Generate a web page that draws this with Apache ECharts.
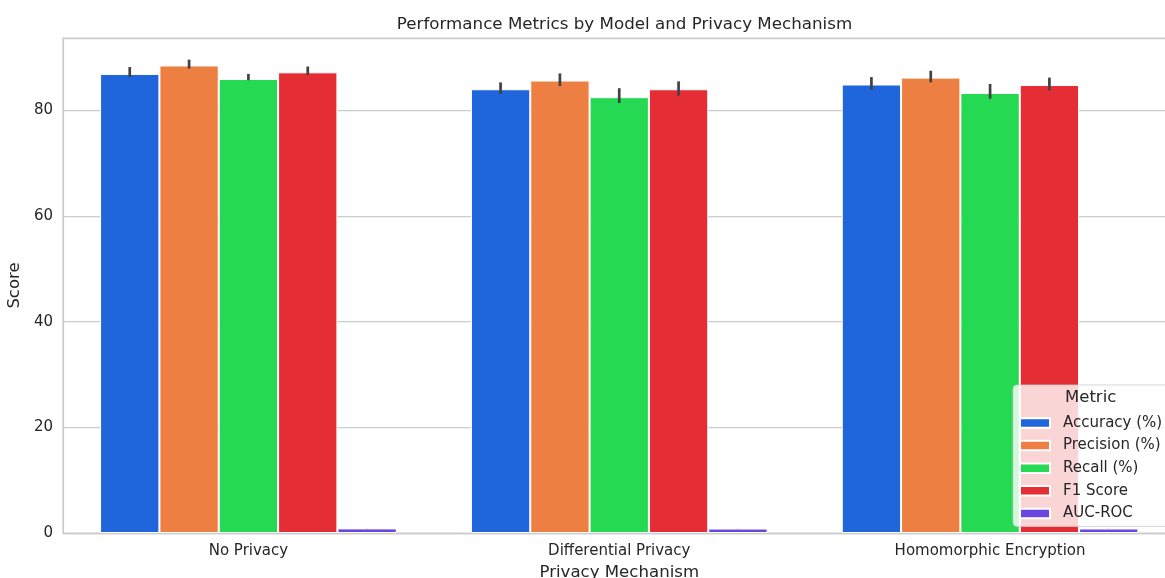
<!DOCTYPE html>
<html>
<head>
<meta charset="utf-8">
<script src="https://cdn.jsdelivr.net/npm/echarts@6/dist/echarts.min.js"></script>
<style>
  html, body { margin: 0; padding: 0; background: #ffffff; }
  #chart { width: 1165px; height: 578px; }
</style>
</head>
<body>
<div id="chart"></div>
<script>
// Privacy mechanisms on the x axis
const mechanisms = ['No Privacy', 'Differential Privacy', 'Homomorphic Encryption'];
const metricNames = ['Accuracy (%)', 'Precision (%)', 'Recall (%)', 'F1 Score', 'AUC-ROC'];

// Mean score per mechanism for each metric
const accuracy = [86.9, 84.0, 84.9];
const precision = [88.5, 85.65, 86.2];
const recall = [85.95, 82.5, 83.3];
const f1Score = [87.2, 84.0, 84.8];
const aucRoc = [0.87, 0.84, 0.85];

// Confidence interval ends (low / high) per metric
const accuracyLow = [86.3, 83.1, 83.9];
const accuracyHigh = [88.2, 85.3, 86.3];
const precisionLow = [87.9, 84.6, 85.3];
const precisionHigh = [89.6, 87.0, 87.5];
const recallLow = [85.7, 81.4, 82.2];
const recallHigh = [86.9, 84.2, 85.0];
const f1Low = [86.7, 82.8, 83.8];
const f1High = [88.3, 85.5, 86.2];
const aucLow = [0.86, 0.83, 0.84];
const aucHigh = [0.88, 0.85, 0.86];

const yTicks = [0, 20, 40, 60, 80];

const colors = ['#1f66dd', '#ee7f42', '#25d952', '#e52d35', '#6a46e0'];
const textColor = '#262626';
const font = 'DejaVu Sans';

const values = [accuracy, precision, recall, f1Score, aucRoc];
const lows = [accuracyLow, precisionLow, recallLow, f1Low, aucLow];
const highs = [accuracyHigh, precisionHigh, recallHigh, f1High, aucHigh];

const barSeries = metricNames.map((name, i) => ({
  name: name,
  type: 'bar',
  data: values[i],
  barGap: '0%',
  barCategoryGap: '20%',
  itemStyle: { color: colors[i], borderColor: '#ffffff', borderWidth: 1 },
  emphasis: { disabled: true }
}));

// error bar rows: [category index, series index, low, high]
const errRows = [];
metricNames.forEach((_, s) => {
  mechanisms.forEach((_, c) => {
    errRows.push([c, s, lows[s][c], highs[s][c]]);
  });
});

const nSeries = metricNames.length;

const errorSeries = {
  type: 'custom',
  name: 'ci',
  data: errRows,
  z: 10,
  silent: true,
  renderItem: function (params, api) {
    const c = api.value(0);
    const s = api.value(1);
    const band = api.size([1, 0])[0];
    const barW = band * 0.8 / nSeries;
    const offset = (s - (nSeries - 1) / 2) * barW;
    const pLow = api.coord([c, api.value(2)]);
    const pHigh = api.coord([c, api.value(3)]);
    return {
      type: 'line',
      shape: { x1: pLow[0] + offset, y1: pLow[1], x2: pHigh[0] + offset, y2: pHigh[1] },
      style: { stroke: '#424242', lineWidth: 2.7, lineCap: 'butt' }
    };
  }
};

const chart = echarts.init(document.getElementById('chart'), null, { renderer: 'canvas' });

chart.setOption({
  backgroundColor: '#ffffff',
  animation: false,
  textStyle: { fontFamily: font },
  title: {
    text: 'Performance Metrics by Model and Privacy Mechanism',
    left: 619.5,
    textAlign: 'center',
    top: 11,
    textStyle: { fontFamily: font, fontSize: 16.7, fontWeight: 'normal', color: textColor }
  },
  grid: {
    left: 63,
    right: -10.5,
    top: 38,
    bottom: 45,
    outerBoundsMode: 'none',
    containLabel: false,
    show: true,
    borderColor: '#cccccc',
    borderWidth: 1.25,
    backgroundColor: 'transparent'
  },
  xAxis: {
    type: 'category',
    data: mechanisms,
    name: 'Privacy Mechanism',
    nameLocation: 'middle',
    nameGap: 31,
    nameTextStyle: { fontFamily: font, fontSize: 16.6, color: textColor },
    axisLine: { show: true, lineStyle: { color: '#cccccc', width: 1.25 } },
    axisTick: { show: false },
    axisLabel: { margin: 11, fontFamily: font, fontSize: 15, color: textColor },
    splitLine: { show: false }
  },
  yAxis: {
    type: 'value',
    min: 0,
    max: 93.7,
    interval: 20,
    name: 'Score',
    nameLocation: 'middle',
    nameGap: 38,
    nameRotate: 90,
    nameTextStyle: { fontFamily: font, fontSize: 16.5, color: textColor },
    axisLine: { show: true, lineStyle: { color: '#cccccc', width: 1.25 } },
    axisTick: { show: false },
    axisLabel: {
      margin: 10,
      fontFamily: font,
      fontSize: 15,
      color: textColor,
      showMaxLabel: false,
      formatter: function (v) { return yTicks.indexOf(v) >= 0 ? String(v) : ''; }
    },
    splitLine: { show: true, lineStyle: { color: '#cccccc', width: 1.25 } }
  },
  legend: {
    data: metricNames,
    orient: 'vertical',
    left: 1013,
    top: 385,
    padding: [30, 10, 5, 6],
    itemWidth: 30,
    itemHeight: 9.5,
    itemGap: 6.6,
    icon: 'rect',
    backgroundColor: 'rgba(255,255,255,0.8)',
    borderColor: 'rgba(204,204,204,0.8)',
    borderWidth: 1,
    borderRadius: 4,
    selectedMode: false,
    textStyle: { fontFamily: font, fontSize: 15, color: textColor, lineHeight: 16, padding: [0, 0, 0, 8] }
  },
  graphic: [{
    type: 'text',
    z: 100,
    left: 1065,
    top: 389,
    style: { text: 'Metric', fontFamily: font, fontSize: 16.5, fill: textColor }
  }],
  series: barSeries.concat([errorSeries])
});
</script>
</body>
</html>
